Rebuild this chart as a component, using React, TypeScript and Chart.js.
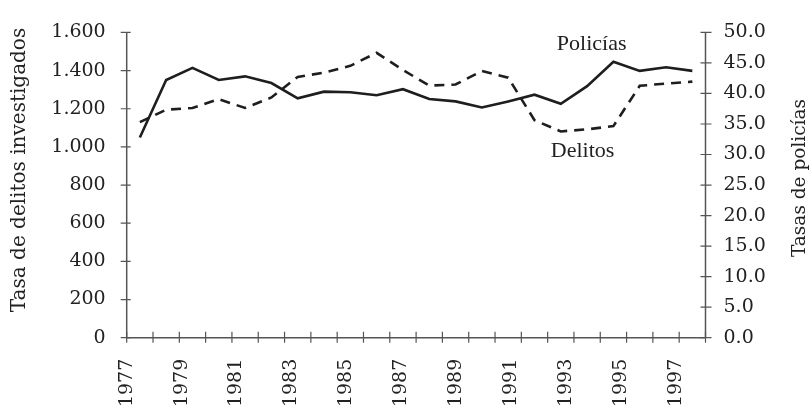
import React, { useEffect, useRef } from 'react';
import { Chart, registerables } from 'chart.js';

Chart.register(...registerables);

// ---- Data ----
const categories = [
  '1977', '1978', '1979', '1980', '1981', '1982', '1983', '1984', '1985', '1986', '1987',
  '1988', '1989', '1990', '1991', '1992', '1993', '1994', '1995', '1996', '1997', '1998',
];
const yearTickValues = [1977, 1979, 1981, 1983, 1985, 1987, 1989, 1991, 1993, 1995, 1997];

// Tasa de policías (right axis)
const policias = [
  32.8, 42.2, 44.2, 42.2, 42.8, 41.7, 39.2, 40.3, 40.2, 39.7, 40.7,
  39.1, 38.7, 37.7, 38.7, 39.8, 38.3, 41.2, 45.2, 43.7, 44.3, 43.7,
];
// Tasa de delitos investigados (left axis)
const delitos = [
  1130, 1195, 1204, 1250, 1204, 1259, 1367, 1389, 1425, 1493, 1403,
  1321, 1327, 1398, 1363, 1140, 1081, 1092, 1109, 1320, 1332, 1342,
];

const leftTickLabels = ['0', '200', '400', '600', '800', '1.000', '1.200', '1.400', '1.600'];
const rightTickLabels = ['0.0', '5.0', '10.0', '15.0', '20.0', '25.0', '30.0', '35.0', '40.0', '45.0', '50.0'];

const leftTitle = 'Tasa de delitos investigados';
const rightTitle = 'Tasas de policías';
const seriesNames = ['Policías', 'Delitos'];

const FONT = 'DejaVu Serif';
const ANNOT_FONT = 'Liberation Serif';
const TEXT = '#222222';
const AXIS = '#555555';
const TICK_SIZE = 19;

const axesPlugin = {
  id: 'axesDraw',
  beforeDatasetsDraw(chart: any) {
    const { ctx, chartArea: ca, scales } = chart;
    ctx.save();
    ctx.strokeStyle = AXIS;
    ctx.lineWidth = 1.5;
    ctx.beginPath();
    ctx.moveTo(ca.left, ca.top);
    ctx.lineTo(ca.left, ca.bottom);
    ctx.lineTo(ca.right, ca.bottom);
    ctx.moveTo(ca.right, ca.top);
    ctx.lineTo(ca.right, ca.bottom);
    ctx.stroke();

    ctx.lineWidth = 1.2;
    ctx.beginPath();
    const yl = scales.y;
    yl.ticks.forEach((_t: any, i: number) => {
      const p = yl.getPixelForTick(i);
      ctx.moveTo(ca.left - 6, p);
      ctx.lineTo(ca.left + 4, p);
    });
    const yr = scales.y1;
    yr.ticks.forEach((_t: any, i: number) => {
      const p = yr.getPixelForTick(i);
      ctx.moveTo(ca.right - 5, p);
      ctx.lineTo(ca.right + 6, p);
    });
    const xs = scales.x;
    const n = categories.length;
    for (let i = 0; i <= n; i++) {
      let p;
      if (i === 0) p = ca.left;
      else if (i === n) p = ca.right;
      else p = (xs.getPixelForValue(i - 1) + xs.getPixelForValue(i)) / 2;
      ctx.moveTo(p, ca.bottom - 6);
      ctx.lineTo(p, ca.bottom + 5);
    }
    ctx.stroke();
    ctx.restore();
  },
  afterDraw(chart: any) {
    const { ctx, scales } = chart;
    ctx.save();
    ctx.fillStyle = TEXT;
    ctx.textAlign = 'center';
    ctx.textBaseline = 'middle';
    // left title
    ctx.save();
    ctx.font = `20px "${FONT}"`;
    ctx.translate(20, 170);
    ctx.rotate(-Math.PI / 2);
    ctx.fillText(leftTitle, 0, 0);
    ctx.restore();
    // right title
    ctx.save();
    ctx.font = `18.5px "${FONT}"`;
    ctx.translate(800, 178);
    ctx.rotate(-Math.PI / 2);
    ctx.fillText(rightTitle, 0, 0);
    ctx.restore();

    // annotations
    ctx.font = `22px "${ANNOT_FONT}"`;
    ctx.textAlign = 'left';
    ctx.textBaseline = 'alphabetic';
    ctx.fillText(seriesNames[0], scales.x.getPixelForValue(15.85), scales.y1.getPixelForValue(47.1));
    ctx.fillText(seriesNames[1], scales.x.getPixelForValue(15.62), scales.y.getPixelForValue(948));
    ctx.restore();
  },
};

export default function App() {
  const ref = useRef<HTMLCanvasElement | null>(null);

  useEffect(() => {
    if (!ref.current) return;
    const chart = new Chart(ref.current, {
      type: 'line',
      data: {
        labels: categories,
        datasets: [
          {
            label: seriesNames[0],
            data: policias,
            xAxisID: 'x',
            yAxisID: 'y1',
            borderColor: '#1e1e1e',
            borderWidth: 2.6,
            pointRadius: 0,
            tension: 0,
            fill: false,
          },
          {
            label: seriesNames[1],
            data: delitos,
            xAxisID: 'x',
            yAxisID: 'y',
            borderColor: '#1e1e1e',
            borderWidth: 2.6,
            borderDash: [10, 7],
            pointRadius: 0,
            tension: 0,
            fill: false,
          },
        ],
      },
      options: {
        animation: false,
        responsive: false,
        devicePixelRatio: 1,
        layout: { padding: { left: 0, right: 0, top: 29.5, bottom: 0 } },
        plugins: { legend: { display: false }, tooltip: { enabled: false } },
        scales: {
          x: {
            type: 'category',
            position: 'bottom',
            offset: true,
            grid: { display: false, drawTicks: false },
            border: { display: false },
            ticks: { display: false },
            afterFit: (s: any) => { s.height = 0; },
          },
          xl: {
            type: 'linear',
            position: 'bottom',
            min: 1977,
            max: 1998.08,
            grid: { display: false, drawTicks: false },
            border: { display: false },
            afterBuildTicks: (s: any) => { s.ticks = yearTickValues.map((v) => ({ value: v })); },
            ticks: {
              autoSkip: false,
              minRotation: 90,
              maxRotation: 90,
              padding: 21,
              color: TEXT,
              font: { family: FONT, size: TICK_SIZE },
              callback: (v: any) => String(v),
            },
            afterFit: (s: any) => { s.height = 71.3; },
          },
          y: {
            type: 'linear',
            position: 'left',
            min: 0,
            max: 1600,
            grid: { display: false, drawTicks: false },
            border: { display: false },
            ticks: {
              stepSize: 200,
              padding: 21,
              color: TEXT,
              font: { family: FONT, size: TICK_SIZE },
              callback: (_v: any, i: number) => leftTickLabels[i],
            },
            afterFit: (s: any) => { s.width = 126.7; },
          },
          y1: {
            type: 'linear',
            position: 'right',
            min: 0,
            max: 50,
            grid: { display: false, drawTicks: false },
            border: { display: false },
            ticks: {
              stepSize: 5,
              padding: 18,
              color: TEXT,
              font: { family: FONT, size: TICK_SIZE },
              callback: (_v: any, i: number) => rightTickLabels[i],
            },
            afterFit: (s: any) => { s.width = 106.5; },
          },
        },
      },
      plugins: [axesPlugin],
    } as any);
    return () => chart.destroy();
  }, []);

  return (
    <div style={{ position: 'fixed', left: 0, top: 0, width: 812, height: 409, background: '#fff' }}>
      <canvas ref={ref} width={812} height={409} style={{ width: 812, height: 409, display: 'block' }} />
    </div>
  );
}
